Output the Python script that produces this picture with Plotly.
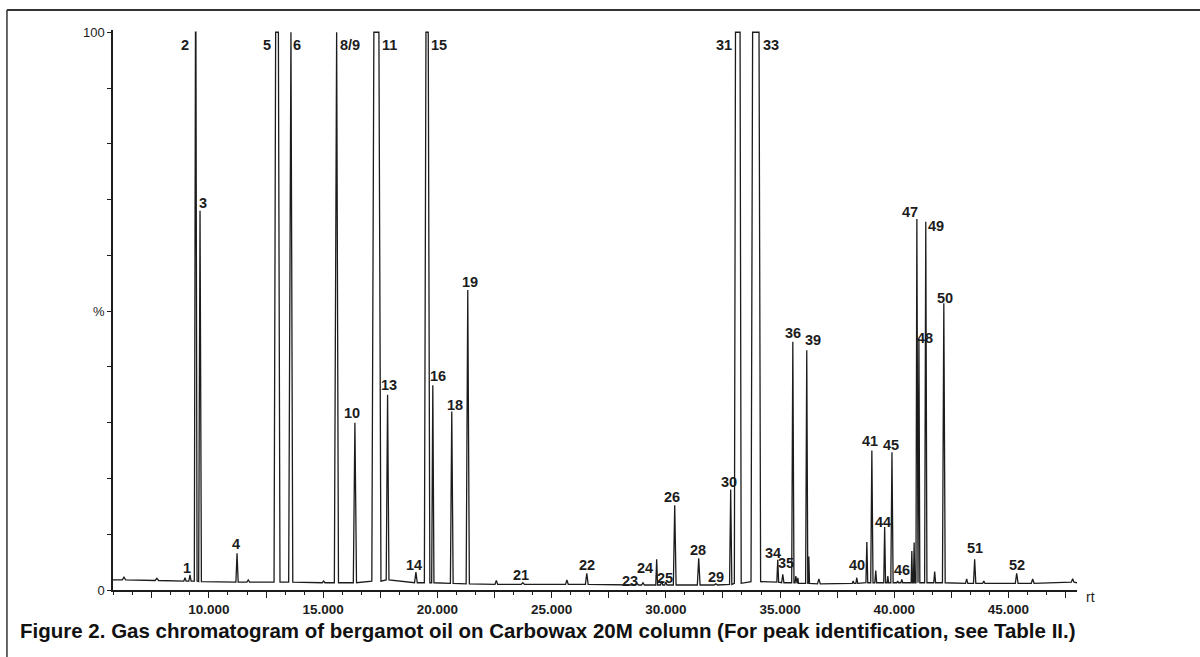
import plotly.graph_objects as go

# ---------------- data ----------------
# chromatogram peaks: retention time (min), apex (% of full scale), local baseline (%),
# base width (min), flat-top width for off-scale peaks (min)
peak_rt = [6.28, 7.72, 8.95, 9.17, 9.42, 9.61, 11.23, 11.72, 12.98, 13.58,
           15.02, 15.58, 16.39, 17.33, 17.82, 19.06, 19.55, 19.80, 20.63, 21.33,
           22.58, 23.74, 25.67, 26.54, 28.73, 29.00, 29.60, 29.82, 30.00, 30.39,
           31.44, 32.19, 32.84, 33.15, 33.94, 34.90, 35.12, 35.56, 35.69, 35.78,
           36.17, 36.26, 36.70, 38.20, 38.36, 38.80, 39.02, 39.19, 39.58, 39.72,
           39.90, 40.15, 40.33, 40.77, 40.87, 40.99, 41.08, 41.38, 41.77, 42.17,
           43.17, 43.52, 43.92, 45.36, 46.06, 47.81]
peak_pct = [2.3, 2.1, 2.2, 2.7, 100, 68, 6.6, 1.8, 100, 100,
            1.6, 100, 30, 100, 35, 3.2, 100, 36.7, 32, 53.8,
            1.7, 1.3, 1.8, 3.0, 1.2, 1.3, 5.5, 1.6, 1.4, 15.2,
            5.7, 1.1, 18, 100, 100, 5.4, 2.8, 44.5, 2.5, 2.2,
            43, 6.0, 2.0, 1.6, 2.2, 8.6, 25, 3.5, 11.3, 2.5,
            24.7, 1.6, 1.9, 7.0, 8.5, 66.5, 45, 66, 3.3, 51.4,
            2.0, 5.5, 1.6, 3.0, 2.0, 2.0]
peak_base = [1.8, 1.7, 1.6, 1.6, 1.6, 1.5, 1.4, 1.4, 1.4, 1.4,
             1.3, 1.3, 1.3, 1.6, 1.8, 1.3, 1.3, 1.3, 1.2, 1.1,
             1.0, 1.0, 1.0, 1.0, 0.9, 0.9, 0.9, 0.9, 0.9, 0.9,
             0.9, 0.9, 1.0, 1.2, 1.5, 1.4, 1.3, 1.3, 1.3, 1.2,
             1.2, 1.2, 1.1, 1.2, 1.2, 1.3, 1.3, 1.3, 1.3, 1.3,
             1.3, 1.3, 1.3, 1.3, 1.3, 1.3, 1.3, 1.3, 1.3, 1.3,
             1.2, 1.2, 1.2, 1.2, 1.2, 1.4]
peak_width = [0.15, 0.15, 0.10, 0.10, 0.12, 0.12, 0.10, 0.12, 0.26, 0.18,
              0.12, 0.18, 0.14, 0.40, 0.12, 0.12, 0.24, 0.10, 0.12, 0.14,
              0.12, 0.15, 0.12, 0.12, 0.15, 0.12, 0.08, 0.10, 0.10, 0.12,
              0.12, 0.15, 0.10, 0.30, 0.42, 0.08, 0.10, 0.10, 0.06, 0.06,
              0.10, 0.06, 0.12, 0.08, 0.08, 0.08, 0.10, 0.08, 0.08, 0.06,
              0.10, 0.08, 0.08, 0.06, 0.06, 0.08, 0.08, 0.10, 0.08, 0.12,
              0.10, 0.10, 0.10, 0.12, 0.12, 0.12]
peak_flat_top = {4: 0.02, 8: 0.12, 9: 0.02, 11: 0.02, 13: 0.22, 16: 0.10, 33: 0.20, 34: 0.28}
run_start = (5.8, 1.8)
run_end = (48.0, 1.3)

# peak labels (text, rt, % position)
label_text = ["1", "2", "3", "4", "5", "6", "8/9", "10", "11", "13", "14", "15", "16", "18", "19",
              "21", "22", "23", "24", "25", "26", "28", "29", "30", "31", "33", "34", "35", "36",
              "39", "40", "41", "44", "45", "46", "47", "48", "49", "50", "51", "52"]
label_rt = [9.04, 8.95, 9.74, 11.18, 12.54, 13.85, 16.17, 16.26, 17.92, 17.88, 18.97, 20.07, 20.02,
            20.77, 21.42, 23.65, 26.54, 28.45, 29.08, 29.96, 30.26, 31.40, 32.19, 32.76, 32.54,
            34.60, 34.68, 35.25, 35.57, 36.45, 38.36, 38.93, 39.50, 39.85, 40.33, 40.68, 41.34,
            41.82, 42.21, 43.52, 45.36]
label_pct = [3.9, 97.8, 69.4, 8.2, 97.8, 97.8, 97.8, 31.7, 97.8, 36.7, 4.5, 97.8, 38.4,
             33.2, 55.2, 2.7, 4.5, 1.6, 4.0, 2.2, 16.7, 7.2, 2.3, 19.4, 97.8,
             97.8, 6.6, 4.8, 46.1, 44.8, 4.5, 26.7, 12.2, 26.0, 3.6, 67.7, 45.2,
             65.2, 52.3, 7.5, 4.5]

x_major_ticks = [7.5, 10, 12.5, 15, 17.5, 20, 22.5, 25, 27.5, 30, 32.5, 35, 37.5, 40, 42.5, 45, 47.5]
x_tick_labels = ["", "10.000", "", "15.000", "", "20.000", "", "25.000", "", "30.000",
                 "", "35.000", "", "40.000", "", "45.000", ""]
y_ticks = [0, 10, 20, 30, 40, 50, 60, 70, 80, 90, 100]
y_tick_labels = ["0", "", "", "", "", "%", "", "", "", "", "100"]
caption = ("Figure 2. Gas chromatogram of bergamot oil on Carbowax 20M column "
           "(For peak identification, see Table II.)")

# ---------------- build the trace polyline from the peak table ----------------
xs = [run_start[0]]
ys = [run_start[1]]
n = len(peak_rt)
for i in range(n):
    rt, h, b, w = peak_rt[i], peak_pct[i], peak_base[i], peak_width[i]
    left = rt - w / 2
    right = rt + w / 2
    if i > 0:
        left = max(left, (peak_rt[i - 1] + rt) / 2)
    if i < n - 1:
        right = min(right, (peak_rt[i + 1] + rt) / 2)
    xs.append(left); ys.append(b)
    if i in peak_flat_top:
        tw = peak_flat_top[i]
        xs += [rt - tw / 2, rt + tw / 2]
        ys += [h, h]
    else:
        xs.append(rt); ys.append(h)
    xs.append(right); ys.append(b)
xs.append(run_end[0]); ys.append(run_end[1])

INK = "#1c1c1c"
fig = go.Figure()
fig.add_trace(go.Scatter(x=xs, y=ys, mode="lines",
                         line=dict(color=INK, width=1.3), hoverinfo="skip",
                         showlegend=False))

annotations = []
for t, x, y in zip(label_text, label_rt, label_pct):
    annotations.append(dict(x=x, y=y, xref="x", yref="y", text=t, showarrow=False,
                            xanchor="center", yanchor="middle",
                            font=dict(family="Liberation Sans", size=14.5, color=INK, weight="bold")))
annotations.append(dict(x=1.0135, y=-0.012, xref="paper", yref="paper", text="rt",
                        showarrow=False, xanchor="center", yanchor="middle",
                        font=dict(family="Liberation Sans", size=14, color=INK)))
annotations.append(dict(x=-0.0985, y=-0.073, xref="paper", yref="paper", text=caption,
                        showarrow=False, xanchor="left", yanchor="middle",
                        font=dict(family="Liberation Sans", size=20.5, color="#111111", weight="bold")))

shapes = [
    dict(type="line", xref="paper", yref="paper", x0=-0.110, x1=1.13, y0=1.0357, y1=1.0357,
         line=dict(color="#333333", width=2)),
    dict(type="line", xref="paper", yref="paper", x0=-0.110, x1=-0.110, y0=1.0357, y1=-0.13,
         line=dict(color="#333333", width=1.5)),
]

fig.update_layout(
    width=1200, height=657,
    margin=dict(l=113, r=123, t=30, b=67),
    paper_bgcolor="white", plot_bgcolor="white",
    annotations=annotations, shapes=shapes,
    xaxis=dict(range=[5.8, 48.0], showgrid=False, zeroline=False,
               showline=True, linecolor=INK, linewidth=1.5,
               tickmode="array", tickvals=x_major_ticks, ticktext=x_tick_labels,
               ticks="outside", ticklen=6, tickwidth=1.2, tickcolor=INK,
               tickfont=dict(family="Liberation Sans", size=13.5, color=INK, weight="bold"),
               minor=dict(dtick=2.5 / 3, tick0=0, ticks="outside", ticklen=3,
                          tickwidth=1, tickcolor=INK, showgrid=False)),
    yaxis=dict(range=[0, 100.4], showgrid=False, zeroline=False,
               showline=True, linecolor=INK, linewidth=1.5,
               tickmode="array", tickvals=y_ticks, ticktext=y_tick_labels,
               ticks="outside", ticklen=4, tickwidth=1, tickcolor=INK,
               tickfont=dict(family="Liberation Sans", size=13, color=INK)),
)

fig.write_html("out.html", config={"displayModeBar": False},
               post_script="document.body.style.margin='0';document.body.style.overflow='hidden';")
